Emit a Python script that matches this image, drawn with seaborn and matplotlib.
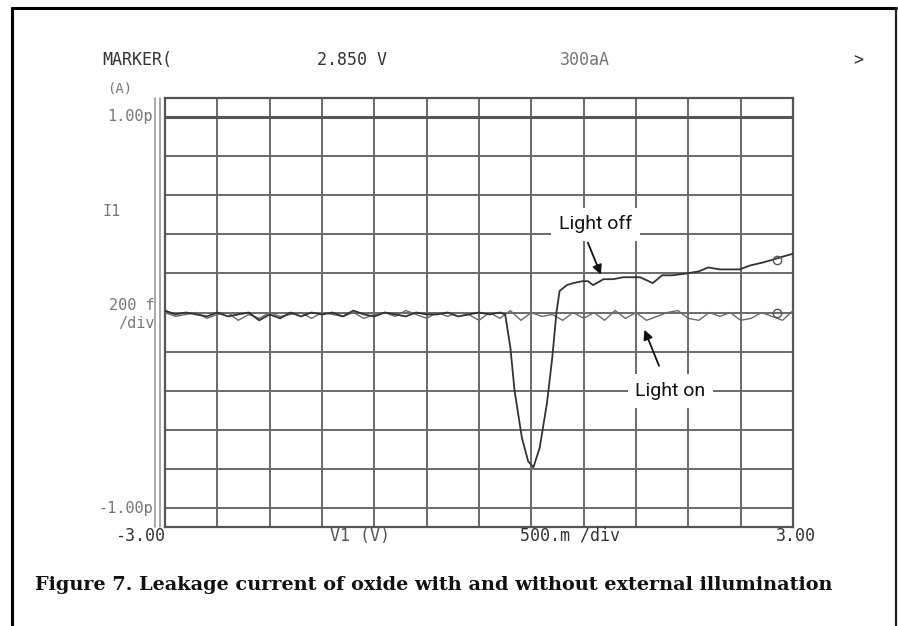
import numpy as np
import pandas as pd
import matplotlib
matplotlib.use("Agg")
import matplotlib.pyplot as plt
from matplotlib.lines import Line2D
import seaborn as sns

# ---- data (x in V, y in pA) ----
# light off: flat noisy part, then the dip and the rise
off_v = [-3.0, -2.9, -2.8, -2.7, -2.6, -2.5, -2.4, -2.3, -2.2, -2.1, -2.0,
         -1.9, -1.8, -1.7, -1.6, -1.5, -1.4, -1.3, -1.2, -1.1, -1.0,
         -0.9, -0.8, -0.7, -0.6, -0.5, -0.4, -0.3, -0.2, -0.1, 0.0, 0.1, 0.2,
         0.25, 0.30, 0.34, 0.41, 0.47, 0.52, 0.58, 0.65, 0.70, 0.74, 0.77,
         0.84, 0.90, 0.99, 1.04, 1.09, 1.19, 1.28, 1.38, 1.47, 1.54, 1.66,
         1.75, 1.85, 1.99, 2.10, 2.19, 2.30, 2.40, 2.49, 2.59, 2.71, 2.81,
         2.90, 3.00]
off_i = [0.01, -0.01, 0.00, -0.01, -0.02, 0.00, -0.02, -0.01, 0.00, -0.04, -0.01,
         -0.03, 0.00, -0.02, 0.00, -0.01, 0.00, -0.02, 0.01, -0.01, -0.02,
         0.00, -0.01, -0.02, 0.00, -0.01, -0.01, 0.00, -0.02, -0.01, 0.00, -0.01, 0.00,
         -0.01, -0.18, -0.40, -0.64, -0.76, -0.79, -0.69, -0.46, -0.23, 0.00, 0.11,
         0.14, 0.15, 0.16, 0.16, 0.14, 0.17, 0.17, 0.18, 0.18, 0.18, 0.15,
         0.19, 0.19, 0.20, 0.21, 0.23, 0.22, 0.22, 0.22, 0.24, 0.255, 0.27,
         0.285, 0.30]

# light on: stays flat around zero
on_v = [round(-3.0 + 0.1 * k, 1) for k in range(61)]
on_i = [0.00, -0.02, -0.01, 0.00, -0.03, -0.01, 0.00, -0.04, -0.01, -0.03, 0.00,
        -0.02, -0.01, 0.00, -0.03, 0.00, -0.01, -0.02, 0.00, -0.03, -0.01,
        0.00, -0.02, 0.01, -0.01, -0.03, 0.00, -0.02, 0.00, -0.01, -0.04,
        0.00, -0.03, 0.01, -0.04, 0.00, -0.02, -0.01, -0.04, 0.00, -0.03,
        0.00, -0.04, 0.01, -0.03, 0.00, -0.04, -0.02, 0.00, 0.01, -0.03,
        -0.04, 0.00, -0.02, 0.00, -0.04, -0.03, 0.00, -0.02, -0.04, 0.01]

marker_v = 2.85
marker_off_i = 0.27
marker_on_i = 0.00

df_off = pd.DataFrame({"V": off_v, "I": off_i})
df_on = pd.DataFrame({"V": on_v, "I": on_i})

sns.set_theme(style="white")
plt.rcParams["font.family"] = ["DejaVu Sans Mono", "DejaVu Sans"]

W, H = 898, 626
fig = plt.figure(figsize=(W / 100, H / 100), dpi=100)
fig.patch.set_facecolor("white")

def fx(px):
    return px / W

def fy(py):
    return 1 - py / H

ax = fig.add_axes([fx(165), fy(527), fx(793) - fx(165), fy(98) - fy(527)])
ax.set_xlim(-3, 3)
ax.set_ylim(-1.095, 1.095)
ax.set_xticks(np.arange(-3, 3.01, 0.5))
ax.set_yticks(np.arange(-1, 1.01, 0.2))
ax.tick_params(length=0, labelbottom=False, labelleft=False)
ax.grid(True, color="#6a6a6a", lw=1.4)
for s in ax.spines.values():
    s.set_color("#555555")
    s.set_linewidth(1.6)
ax.axhline(1.0, color="#555555", lw=2.2, zorder=1)

# double bar at the left of the screen
for off in (-0.016, -0.008):
    ax.plot([off, off], [0, 1], transform=ax.transAxes, clip_on=False,
            color="#9a9a9a", lw=1.2)

sns.lineplot(data=df_on, x="V", y="I", ax=ax, color="#6a6a6a", lw=1.0,
             sort=False, estimator=None, zorder=3)
sns.lineplot(data=df_off, x="V", y="I", ax=ax, color="#333333", lw=1.3,
             sort=False, estimator=None, zorder=4)
ax.plot([marker_v, marker_v], [marker_off_i, marker_on_i], "o", ms=6,
        mfc="none", mec="#555555", mew=1.0, zorder=5)
ax.set_xlabel("")
ax.set_ylabel("")

# annotations
ann_font = ["Roboto", "DejaVu Sans"]
ax.text(1.11, 0.45, "Light off", fontsize=14, family=ann_font, ha="center",
        va="center", color="#111111", zorder=6,
        bbox=dict(boxstyle="square,pad=0.4", fc="white", ec="none"))
ax.annotate("", xy=(1.175, 0.18), xytext=(1.03, 0.37),
            arrowprops=dict(arrowstyle="-|>", color="#111111", lw=1.3,
                            mutation_scale=14), zorder=6)
ax.text(1.83, -0.40, "Light on", fontsize=14, family=ann_font, ha="center",
        va="center", color="#111111", zorder=6,
        bbox=dict(boxstyle="square,pad=0.4", fc="white", ec="none"))
ax.annotate("", xy=(1.57, -0.075), xytext=(1.73, -0.285),
            arrowprops=dict(arrowstyle="-|>", color="#111111", lw=1.3,
                            mutation_scale=14), zorder=6)

# instrument screen labels
dark = "#333333"
grey = "#777777"
fs = 12
fig.text(fx(102), fy(60), "MARKER(", fontsize=fs, color=dark, va="center")
fig.text(fx(317), fy(60), "2.850 V", fontsize=fs, color=dark, va="center")
fig.text(fx(560), fy(60), "300aA", fontsize=fs, color=grey, va="center")
fig.text(fx(853), fy(60), ">", fontsize=fs, color=dark, va="center")
fig.text(fx(107), fy(88), "(A)", fontsize=10, color=grey, va="center")
fig.text(fx(153), fy(116), "1.00p", fontsize=11, color=grey, va="center", ha="right")
fig.text(fx(102), fy(212), "I1", fontsize=11, color=grey, va="center")
fig.text(fx(155), fy(305), "200 f", fontsize=11, color=grey, va="center", ha="right")
fig.text(fx(155), fy(324), "/div", fontsize=11, color=grey, va="center", ha="right")
fig.text(fx(153), fy(509), "-1.00p", fontsize=11, color=grey, va="center", ha="right")
fig.text(fx(115), fy(536), "-3.00", fontsize=fs, color=dark, va="center")
fig.text(fx(330), fy(536), "V1 (V)", fontsize=fs, color="#555555", va="center")
fig.text(fx(520), fy(536), "500.m /div", fontsize=fs, color=dark, va="center")
fig.text(fx(776), fy(536), "3.00", fontsize=fs, color=dark, va="center")

# caption
fig.text(fx(35), fy(585), "Figure 7. Leakage current of oxide with and without external illumination",
         fontsize=13.9, family="DejaVu Serif", weight="bold", color="#111111", va="center")

# page frame
fig.add_artist(Line2D([fx(12), fx(12)], [fy(8), 0], color="black", lw=2.2))
fig.add_artist(Line2D([fx(12), fx(896)], [fy(8), fy(8)], color="black", lw=2.2))
fig.add_artist(Line2D([fx(896), fx(896)], [fy(8), 0], color="#222222", lw=1.6))

fig.savefig("out.png", dpi=100, facecolor="white")
